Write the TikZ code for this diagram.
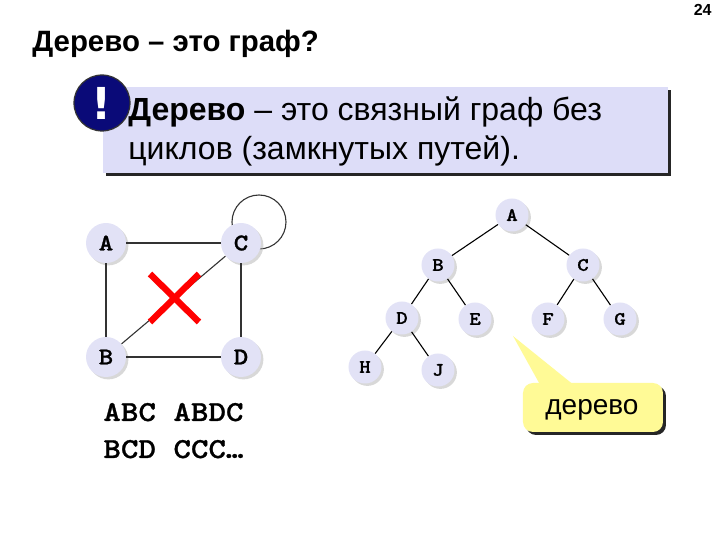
\documentclass[tikz,border=0pt]{standalone}
\usepackage{fontspec}
\setmainfont{Liberation Sans}
\newfontfamily\heavyf{DejaVu Sans}
\newfontfamily\courb{lmmonolt10-bold.otf}[FakeStretch=1.15, FakeBold=1]
\usetikzlibrary{shadows}
\definecolor{nodefill}{RGB}{226,226,246}
\definecolor{boxfill}{RGB}{221,221,248}
\definecolor{navy}{RGB}{10,10,120}
\definecolor{callfill}{RGB}{255,250,150}
\tikzset{
  gnode/.style={circle, fill=nodefill, minimum size=20pt, inner sep=0pt,
     font=\courb\fontsize{12}{13}\selectfont,
     drop shadow={shadow xshift=1.2pt, shadow yshift=-1.2pt, fill=gray!60}},
  tnode/.style={gnode, minimum size=16.5pt, font=\courb\fontsize{9.5}{10}\selectfont},
  gedge/.style={draw=black!80, line width=0.55pt},
  cross/.style={draw=red, line width=3.2pt},
  monotext/.style={anchor=base west, inner sep=0pt, font=\courb\fontsize{14.5}{17}\selectfont},
}
\begin{document}
\begin{tikzpicture}[x=0.5pt,y=-0.5pt]
\useasboundingbox (0,0) rectangle (720,540);
% title and page number
\node[anchor=base west, inner sep=0pt, font=\bfseries\fontsize{14.7}{17}\selectfont] (title) at (32,52) {Дерево – это граф?};
\node[anchor=base east, inner sep=0pt, font=\bfseries\fontsize{8}{9}\selectfont] (pnum) at (712,16) {24};
% definition box
\fill[black!85] (106,90) rectangle (671,176);
\fill[boxfill] (103,87) rectangle (668,173);
\node[circle, fill=navy, draw=black!80, line width=0.6pt, minimum size=28pt, inner sep=0pt,
      font=\heavyf\bfseries\fontsize{22}{23}\selectfont, text=white] (excl) at (102,103) {!};
\node[anchor=base west, inner sep=0pt, font=\fontsize{16}{18}\selectfont] (def1) at (128,121) {\textbf{Дерево} – это связный граф без};
\node[anchor=base west, inner sep=0pt, font=\fontsize{16}{18}\selectfont] (def2) at (128,160) {циклов (замкнутых путей).};
% left graph
\draw[gedge] (259,222) circle[radius=27];
\node[gnode] (A) at (106,243) {A};
\node[gnode] (C) at (241,243) {C};
\node[gnode] (B) at (106,357) {B};
\node[gnode] (D) at (241,357) {D};
\draw[gedge] (A) -- (C);
\draw[gedge] (A) -- (B);
\draw[gedge] (C) -- (D);
\draw[gedge] (B) -- (D);
\draw[gedge] (B) -- (C);
\draw[cross] (150,274) -- (199,322);
\draw[cross] (199,274) -- (150,322);
\node[monotext] (p1) at (103,421) {ABC ABDC};
\node[monotext] (p2) at (103,458) {BCD CCC…};
% tree
\node[tnode] (tA) at (512,215) {A};
\node[tnode] (tB) at (438,265) {B};
\node[tnode] (tC) at (583,265) {C};
\node[tnode] (tD) at (402,318) {D};
\node[tnode] (tE) at (475,319) {E};
\node[tnode] (tF) at (548,319) {F};
\node[tnode] (tG) at (620,319) {G};
\node[tnode] (tH) at (365,367) {H};
\node[tnode] (tJ) at (438,370) {J};
\foreach \u/\v in {tA/tB, tA/tC, tB/tD, tB/tE, tC/tF, tC/tG, tD/tH, tD/tJ}
  \draw[gedge, draw=black] (\u) -- (\v);
% callout
\coordinate (tip) at (513,336);
\fill[black!85, rounded corners=5pt] (526,386) rectangle (666,435);
\fill[callfill] (tip) -- (580,390) -- (543,390) -- cycle;
\fill[callfill, rounded corners=5pt] (523,383) rectangle (663,432);
\node[anchor=base, font=\fontsize{14}{16}\selectfont, inner sep=0pt] (ctext) at (592,415) {дерево};
\end{tikzpicture}
\end{document}
